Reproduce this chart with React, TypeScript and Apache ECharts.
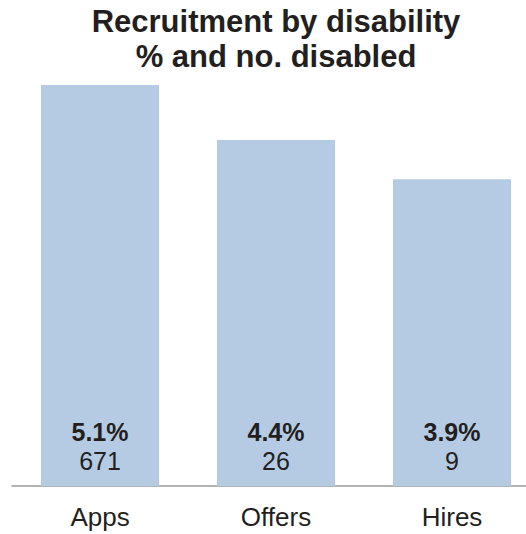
import React, { useEffect, useRef } from "react";
import * as echarts from "echarts";

const categories = ["Apps", "Offers", "Hires"];
const percentValues = [5.1, 4.4, 3.9];
const countValues = [671, 26, 9];
const titleLines = ["Recruitment by disability", "% and no. disabled"];

export default function App() {
  const ref = useRef<HTMLDivElement>(null);
  useEffect(() => {
    if (!ref.current) return;
    const chart = echarts.init(ref.current, null, { renderer: "svg" });
    const font = "'Liberation Sans', Arial, Helvetica, sans-serif";
    chart.setOption({
      animation: false,
      backgroundColor: "#ffffff",
      graphic: [
        {
          type: "text",
          x: 276,
          y: 4,
          style: {
            text: titleLines.join("\n"),
            fontFamily: font,
            fontSize: 31,
            fontWeight: "bold",
            lineHeight: 35,
            fill: "#231f20",
            align: "center",
            verticalAlign: "top",
          },
        },
      ],
      grid: {
        left: 12,
        width: 528,
        top: 85,
        bottom: 48,
        containLabel: false,
        outerBoundsMode: "none",
      },
      xAxis: {
        type: "category",
        data: categories,
        axisLine: { lineStyle: { color: "#9a9a9a", width: 1.5 } },
        axisTick: { show: false },
        axisLabel: {
          margin: 18,
          fontFamily: font,
          fontSize: 26,
          color: "#231f20",
        },
      },
      yAxis: {
        type: "value",
        min: 0,
        max: 5.1,
        show: false,
        splitLine: { show: false },
      },
      series: [
        {
          type: "bar",
          barWidth: 118,
          data: percentValues,
          itemStyle: { color: "#b5cbe4" },
          label: {
            show: true,
            position: "insideBottom",
            distance: 11,
            formatter: (p: any) =>
              `{a|${p.value.toFixed(1)}%}\n{b|${countValues[p.dataIndex]}}`,
            rich: {
              a: {
                fontFamily: font,
                fontSize: 25,
                fontWeight: "bold",
                lineHeight: 29,
                color: "#231f20",
              },
              b: {
                fontFamily: font,
                fontSize: 25,
                lineHeight: 29,
                color: "#231f20",
              },
            },
          },
        },
      ],
    });
    return () => chart.dispose();
  }, []);
  return (
    <div
      ref={ref}
      style={{ position: "fixed", left: 0, top: 0, width: 526, height: 534 }}
    />
  );
}
